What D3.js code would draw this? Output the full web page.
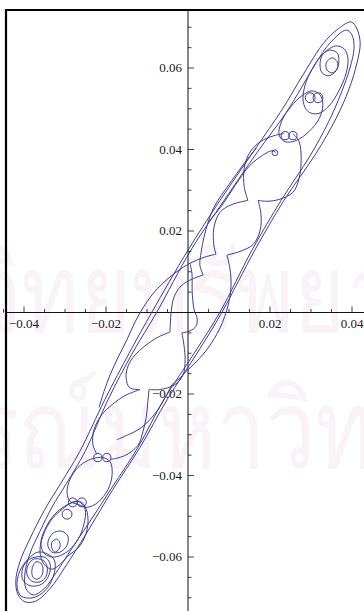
<!DOCTYPE html>
<html>
<head>
<meta charset="utf-8">
<script src="https://cdn.jsdelivr.net/npm/d3@7"></script>
<style>
  body { margin: 0; background: #fff; }
  svg { display: block; }
</style>
</head>
<body>
<div class="myViz"></div>
<script>
// tick labels
var xLabels = [-0.04, -0.02, 0.02, 0.04];
var yLabels = [0.06, 0.04, 0.02, -0.02, -0.04, -0.06];

// trajectory strands, [x, y]
var outer1 = [[0.0398,0.0713],[0.0412,0.0696],[0.0420,0.0661],[0.0412,0.0612],[0.0393,0.0549],[0.0361,0.0476],[0.0312,0.0390],[0.0234,0.0275],[0.0163,0.0153],[0.0083,0.0001],[0.0024,-0.0097],[-0.0051,-0.0214],[-0.0117,-0.0331],[-0.0183,-0.0434],[-0.0249,-0.0544],[-0.0298,-0.0622],[-0.0337,-0.0678],[-0.0371,-0.0708],[-0.0398,-0.0710],[-0.0415,-0.0691],[-0.0420,-0.0659],[-0.0410,-0.0612],[-0.0386,-0.0556],[-0.0349,-0.0483],[-0.0312,-0.0422],[-0.0264,-0.0341],[-0.0203,-0.0214],[-0.0142,-0.0097],[-0.0088,0.0001],[0,0.0153],[0.0078,0.0275],[0.0161,0.0397],[0.0232,0.0502],[0.0266,0.0559],[0.0298,0.0612],[0.0329,0.0659],[0.0366,0.0696]];
var outer2 = [[0.0386,0.0693],[0.0400,0.0681],[0.0405,0.0649],[0.0395,0.0600],[0.0373,0.0537],[0.0342,0.0466],[0.0298,0.0385],[0.0227,0.0275],[0.0156,0.0153],[0.0078,0.0001],[0.0017,-0.0097],[-0.0059,-0.0214],[-0.0122,-0.0331],[-0.0185,-0.0429],[-0.0244,-0.0520],[-0.0288,-0.0586],[-0.0322,-0.0639],[-0.0351,-0.0678],[-0.0378,-0.0693],[-0.0395,-0.0678],[-0.0398,-0.0642],[-0.0386,-0.0593],[-0.0361,-0.0537],[-0.0332,-0.0478],[-0.0298,-0.0422],[-0.0251,-0.0341],[-0.0195,-0.0214],[-0.0134,-0.0097],[-0.0076,0.0001],[0.0007,0.0153],[0.0088,0.0275],[0.0168,0.0392],[0.0239,0.0490],[0.0278,0.0554],[0.0312,0.0612],[0.0346,0.0661]];

// top end
var topEllipse = [[0.0359,0.0654],[0.0381,0.0647],[0.0390,0.0625],[0.0386,0.0588],[0.0368,0.0544],[0.0344,0.0507],[0.0317,0.0488],[0.0293,0.0493],[0.0281,0.0517],[0.0285,0.0556],[0.0303,0.0598],[0.0327,0.0632]];
var topCircle1 = [[0.0346,0.0644],[0.0364,0.0637],[0.0368,0.0615],[0.0361,0.0593],[0.0344,0.0581],[0.0327,0.0588],[0.0322,0.0610],[0.0329,0.0634]];
var topCircle2 = [[0.0351,0.0625],[0.0364,0.0615],[0.0364,0.0598],[0.0351,0.0588],[0.0339,0.0595],[0.0337,0.0612]];
var lensB = [[0.0303,0.0544],[0.0322,0.0534],[0.0329,0.0510],[0.0320,0.0476],[0.0295,0.0444],[0.0264,0.0422],[0.0237,0.0419],[0.0222,0.0436],[0.0229,0.0471],[0.0251,0.0505],[0.0278,0.0532]];

// middle arcs, ending at cusps
var lensCLeft = [[0.0146,0.0275],[0.0137,0.0309],[0.0137,0.0353],[0.0149,0.0390],[0.0176,0.0419],[0.0210,0.0434],[0.0234,0.0439]];
var lensCRight = [[0.0256,0.0439],[0.0271,0.0419],[0.0276,0.0378],[0.0271,0.0329],[0.0256,0.0295],[0.0224,0.0278],[0.0193,0.0273],[0.0171,0.0275]];
var curlArm = [[0.0049,0.0221],[0.0083,0.0263],[0.0115,0.0312],[0.0151,0.0361],[0.0181,0.0385],[0.0205,0.0397],[0.0215,0.0392]];
var lensDLeft = [[0.0146,0.0275],[0.0107,0.0265],[0.0078,0.0246],[0.0063,0.0207],[0.0063,0.0167],[0.0068,0.0143]];
var lensDRight = [[0.0171,0.0275],[0.0178,0.0241],[0.0176,0.0202],[0.0159,0.0167],[0.0127,0.0150],[0.0095,0.0141]];
var armA = [[0.0068,0.0143],[0.0041,0.0136],[0.0005,0.0121],[-0.0029,0.0099],[-0.0061,0.0072],[-0.0088,0.0043],[-0.0110,0.0011],[-0.0129,-0.0023],[-0.0149,-0.0067],[-0.0171,-0.0111],[-0.0190,-0.0153],[-0.0205,-0.0194],[-0.0217,-0.0233]];
var armB = [[0.0037,0.0092],[0.0029,0.0116],[0.0032,0.0148],[0.0039,0.0185],[0.0049,0.0221],[0.0063,0.0258],[0.0083,0.0290],[0.0107,0.0324],[0.0137,0.0366],[0.0166,0.0402]];
var armC = [[0.0037,0.0092],[0.0010,0.0082],[-0.0017,0.0065],[-0.0034,0.0038],[-0.0041,0.0001],[-0.0044,-0.0048]];
var armD = [[0.0095,0.0141],[0.0102,0.0109],[0.0105,0.0067],[0.0098,0.0018],[0.0078,-0.0038],[0.0049,-0.0087],[0.0020,-0.0121],[-0.0005,-0.0145],[-0.0022,-0.0163],[-0.0039,-0.0177]];
var lensELeft = [[-0.0044,-0.0048],[-0.0076,-0.0062],[-0.0105,-0.0082],[-0.0129,-0.0104],[-0.0146,-0.0131],[-0.0151,-0.0160],[-0.0142,-0.0185],[-0.0117,-0.0189]];
var lensERight = [[-0.0015,-0.0050],[-0.0010,-0.0079],[-0.0007,-0.0116],[-0.0012,-0.0153],[-0.0032,-0.0177],[-0.0068,-0.0189],[-0.0095,-0.0189]];
var armE = [[-0.0015,-0.0050],[0.0005,-0.0045],[0.0020,-0.0033],[0.0022,-0.0013],[0.0015,0.0006],[0.0010,0.0055],[0.0010,0.0092],[0.0005,0.0121]];

// bottom end
var lensFLeft = [[-0.0117,-0.0189],[-0.0154,-0.0204],[-0.0185,-0.0226],[-0.0212,-0.0253],[-0.0229,-0.0287],[-0.0232,-0.0324],[-0.0222,-0.0348]];
var lensFRight = [[-0.0095,-0.0189],[-0.0098,-0.0219],[-0.0102,-0.0258],[-0.0110,-0.0292],[-0.0122,-0.0326],[-0.0154,-0.0351],[-0.0190,-0.0361]];
var armF = [[-0.0173,-0.0312],[-0.0146,-0.0300],[-0.0117,-0.0285],[-0.0093,-0.0263],[-0.0073,-0.0238],[-0.0056,-0.0209],[-0.0039,-0.0177]];
var lensG = [[-0.0207,-0.0356],[-0.0190,-0.0366],[-0.0185,-0.0397],[-0.0195,-0.0434],[-0.0220,-0.0466],[-0.0246,-0.0478],[-0.0268,-0.0471],[-0.0288,-0.0463],[-0.0295,-0.0441],[-0.0288,-0.0410],[-0.0268,-0.0380],[-0.0244,-0.0363],[-0.0220,-0.0356]];
var lensH = [[-0.0259,-0.0466],[-0.0246,-0.0490],[-0.0246,-0.0532],[-0.0264,-0.0573],[-0.0293,-0.0598],[-0.0312,-0.0618],[-0.0332,-0.0630],[-0.0351,-0.0618],[-0.0361,-0.0588],[-0.0354,-0.0549],[-0.0332,-0.0507],[-0.0307,-0.0483],[-0.0281,-0.0466]];
var botEllipse1 = [[-0.0307,-0.0537],[-0.0293,-0.0549],[-0.0295,-0.0571],[-0.0312,-0.0588],[-0.0332,-0.0588],[-0.0342,-0.0571],[-0.0337,-0.0551],[-0.0325,-0.0539]];
var botCircle = [[-0.0320,-0.0556],[-0.0312,-0.0566],[-0.0315,-0.0581],[-0.0325,-0.0588],[-0.0332,-0.0578],[-0.0332,-0.0564]];
var botEllipse2 = [[-0.0251,-0.0483],[-0.0254,-0.0520],[-0.0268,-0.0556],[-0.0293,-0.0586],[-0.0325,-0.0600],[-0.0349,-0.0593],[-0.0359,-0.0568],[-0.0349,-0.0532],[-0.0325,-0.0495],[-0.0293,-0.0471],[-0.0268,-0.0463]];
var nest1 = [[-0.0351,-0.0600],[-0.0337,-0.0615],[-0.0339,-0.0644],[-0.0356,-0.0666],[-0.0383,-0.0671],[-0.0403,-0.0656],[-0.0403,-0.0627],[-0.0386,-0.0605]];
var nest2 = [[-0.0354,-0.0608],[-0.0344,-0.0622],[-0.0346,-0.0647],[-0.0361,-0.0661],[-0.0381,-0.0659],[-0.0393,-0.0642],[-0.0390,-0.0620],[-0.0376,-0.0605]];
var nest3 = [[-0.0359,-0.0615],[-0.0354,-0.0627],[-0.0356,-0.0644],[-0.0366,-0.0654],[-0.0376,-0.0652],[-0.0381,-0.0639],[-0.0378,-0.0622],[-0.0371,-0.0612]];
var nest4 = [[-0.0342,-0.0593],[-0.0325,-0.0610],[-0.0329,-0.0649],[-0.0349,-0.0683],[-0.0378,-0.0700],[-0.0407,-0.0696],[-0.0417,-0.0671],[-0.0410,-0.0634],[-0.0390,-0.0605],[-0.0366,-0.0588]];

// small loops: centre x, centre y, radius (data units)
var loops = [[0.0298,0.0527,0.0012],[0.0317,0.0527,0.0012],[0.0237,0.0434,0.0010],[0.0256,0.0434,0.0010],[0.0212,0.0392,0.0007],
             [-0.0220,-0.0356,0.0010],[-0.0198,-0.0356,0.0010],[-0.0281,-0.0466,0.0011],[-0.0259,-0.0466,0.0011],[-0.0295,-0.0495,0.0012]];

var closedStrands = [outer1, outer2, topEllipse, topCircle1, topCircle2, lensB, lensG, lensH, botEllipse1, botCircle, botEllipse2, nest1, nest2, nest3, nest4];
var openStrands = [lensCLeft, lensCRight, curlArm, lensDLeft, lensDRight, armA, armB, armC, armD, lensELeft, lensERight, armE, lensFLeft, lensFRight, armF];

var width = 364, height = 611;
var curveColor = "#3d3d99";

var svg = d3.select(".myViz").append("svg")
  .attr("width", width)
  .attr("height", height);

// faint watermark in the background
var mark = svg.append("g").attr("fill", "#f9f2f6").attr("font-family", "Noto Sans, DejaVu Sans, sans-serif");
mark.append("text").attr("transform", "translate(150,332) scale(0.8,1)").attr("text-anchor", "middle").attr("font-size", 110).text("ศูนย์วิทยทรัพยากร");
mark.append("text").attr("transform", "translate(120,468) scale(0.8,1)").attr("text-anchor", "middle").attr("font-size", 110).text("จุฬาลงกรณ์มหาวิทยาลัย");

var x = d3.scaleLinear().domain([-0.04, 0.04]).range([24, 352]);
var y = d3.scaleLinear().domain([-0.06, 0.06]).range([557, 68]);

var x0 = x(0), y0 = y(0);

// axes through the origin
svg.append("line").attr("x1", 6).attr("x2", width).attr("y1", y0).attr("y2", y0)
  .attr("stroke", "#111").attr("stroke-width", 1);
svg.append("line").attr("x1", x0).attr("x2", x0).attr("y1", 10).attr("y2", height)
  .attr("stroke", "#111").attr("stroke-width", 1);

var xMinor = d3.range(-0.045, 0.0451, 0.005);
var yMinor = d3.range(-0.07, 0.0701, 0.005);
var isMajor = v => Math.abs(Math.round(v * 1000) % 20) === 0;

svg.append("g").selectAll("line").data(xMinor.filter(v => Math.abs(v) > 1e-6)).enter().append("line")
  .attr("x1", d => x(d)).attr("x2", d => x(d))
  .attr("y1", y0).attr("y2", d => y0 - (isMajor(d) ? 6 : 3.5))
  .attr("stroke", "#111").attr("stroke-width", 0.8);

svg.append("g").selectAll("line").data(yMinor.filter(v => Math.abs(v) > 1e-6)).enter().append("line")
  .attr("y1", d => y(d)).attr("y2", d => y(d))
  .attr("x1", x0).attr("x2", d => x0 + (isMajor(d) ? 6 : 3.5))
  .attr("stroke", "#111").attr("stroke-width", 0.8);

var fmt = d => (d < 0 ? "\u2212" : "") + Math.abs(d).toFixed(2);

svg.append("g").selectAll("text").data(xLabels).enter().append("text")
  .attr("x", d => x(d)).attr("y", y0 + 15.5)
  .attr("text-anchor", "middle")
  .attr("font-family", "Liberation Serif, Times New Roman, serif")
  .attr("font-size", 13).attr("fill", "#1a1a1a")
  .text(fmt);

svg.append("g").selectAll("text").data(yLabels).enter().append("text")
  .attr("x", x0 - 6).attr("y", d => y(d)).attr("dy", "0.33em")
  .attr("text-anchor", "end")
  .attr("font-family", "Liberation Serif, Times New Roman, serif")
  .attr("font-size", 13).attr("fill", "#1a1a1a")
  .text(fmt);

// the trajectory
var lineOpen = d3.line().x(d => x(d[0])).y(d => y(d[1])).curve(d3.curveCatmullRom.alpha(0.5));
var lineClosed = d3.line().x(d => x(d[0])).y(d => y(d[1])).curve(d3.curveCatmullRomClosed.alpha(0.5));

var traj = svg.append("g").attr("fill", "none").attr("stroke", curveColor).attr("stroke-width", 1);

traj.selectAll("path.closed").data(closedStrands).enter().append("path")
  .attr("class", "closed").attr("d", lineClosed);
traj.selectAll("path.open").data(openStrands).enter().append("path")
  .attr("class", "open").attr("d", lineOpen);
traj.selectAll("circle").data(loops).enter().append("circle")
  .attr("cx", d => x(d[0])).attr("cy", d => y(d[1]))
  .attr("r", d => x(d[2]) - x(0));

// frame edges (top and left)
svg.append("line").attr("x1", 5).attr("x2", width).attr("y1", 10).attr("y2", 10)
  .attr("stroke", "#000").attr("stroke-width", 2);
svg.append("line").attr("x1", 6).attr("x2", 6).attr("y1", 9).attr("y2", height)
  .attr("stroke", "#000").attr("stroke-width", 2.2);
</script>
</body>
</html>
